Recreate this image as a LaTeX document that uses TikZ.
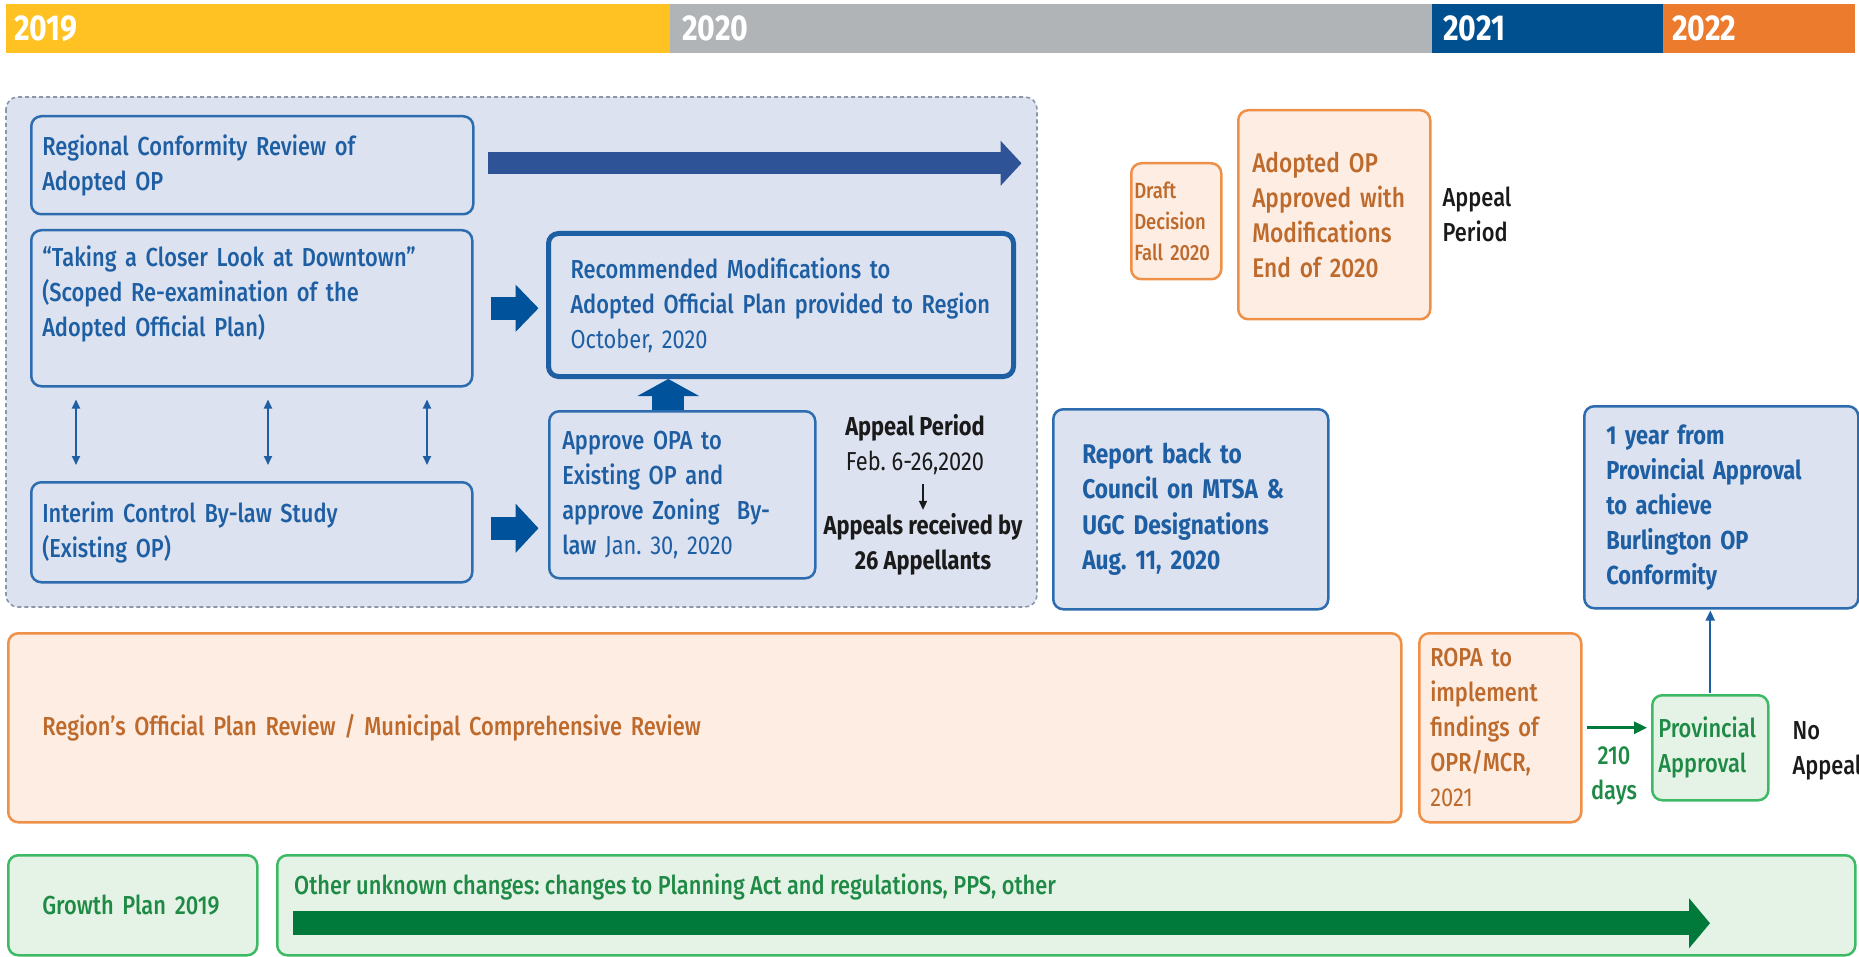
\documentclass[tikz,border=0pt]{standalone}
\usepackage{fontspec}
\setmainfont{Fira Sans}[UprightFont=* Medium, BoldFont=* Bold, FakeStretch=0.84]
\newfontfamily\regf{Fira Sans}[FakeStretch=0.84]
\usetikzlibrary{arrows.meta}
\frenchspacing

\definecolor{yrA}{HTML}{FFC222}
\definecolor{yrB}{HTML}{B1B4B7}
\definecolor{yrC}{HTML}{00508F}
\definecolor{yrD}{HTML}{EC7B2E}
\definecolor{panelfill}{HTML}{DCE2EF}
\definecolor{paneldash}{HTML}{8C96AA}
\definecolor{bxblue}{HTML}{2D6CAF}
\definecolor{txtblue}{HTML}{1E5EA3}
\definecolor{bigblue}{HTML}{2E5396}
\definecolor{blockblue}{HTML}{00529B}
\definecolor{orfill}{HTML}{FDEDE3}
\definecolor{ordraw}{HTML}{EE9048}
\definecolor{ortext}{HTML}{BD6A2C}
\definecolor{grfill}{HTML}{E4F3E5}
\definecolor{grdraw}{HTML}{3EBA66}
\definecolor{grtext}{HTML}{1F8A45}
\definecolor{grarrow}{HTML}{007A3B}
\definecolor{darktxt}{HTML}{1A1A1A}

\tikzset{
  box/.style={draw, rounded corners=10pt, line width=2.5pt, anchor=north west,
    inner sep=2pt, align=left, font=\fontsize{26}{35}\selectfont},
  bluebox/.style={box, draw=bxblue, fill=panelfill, text=txtblue},
  orbox/.style={box, draw=ordraw, fill=orfill, text=ortext},
  grbox/.style={box, draw=grdraw, fill=grfill, text=grtext},
  yearbar/.style={anchor=north west, inner sep=0pt, minimum height=49pt,
    text=white, align=left, font=\bfseries\fontsize{36}{36}\selectfont},
  note/.style={inner sep=0pt, align=center, text=darktxt, font=\fontsize{26}{35}\selectfont},
  fatarrow/.style={line width=#1},
  twoway/.style={draw=txtblue, line width=1.8pt,
    {Triangle[length=9pt,width=8pt]}-{Triangle[length=9pt,width=8pt]}}
}

\begin{document}
\begin{tikzpicture}[x=1pt,y=-1pt]
    \useasboundingbox (0,0) rectangle (1859,957);
    \clip (0,0) rectangle (1859,957);

    % year bar
    \node[yearbar, fill=yrA, minimum width=664pt, text width=648pt] (y19) at (6,4) {2019};
    \node[yearbar, fill=yrB, minimum width=762pt, text width=738pt] (y20) at (670,4) {2020};
    \node[yearbar, fill=yrC, minimum width=231pt, text width=209pt] (y21) at (1432,4) {2021};
    \node[yearbar, fill=yrD, minimum width=192pt, text width=174pt] (y22) at (1663,4) {2022};

    % dashed panel
    \draw[draw=paneldash, fill=panelfill, line width=1.6pt, dash pattern=on 4pt off 3pt,
          rounded corners=12pt] (6,97) rectangle (1037,607);

    \node[bluebox, minimum width=442pt, minimum height=98pt, text width=420pt] (nA) at (30,115)
        {Regional Conformity Review of\\Adopted OP};
    \node[bluebox, minimum width=441pt, minimum height=156pt, text width=419pt] (nB) at (30,229)
        {“Taking a Closer Look at Downtown”\\(Scoped Re-examination of the\\Adopted Official Plan)\\\mbox{}};
    \node[bluebox, minimum width=441pt, minimum height=100pt, text width=419pt] (nC) at (30,481)
        {Interim Control By-law Study\\(Existing OP)};
    \node[bluebox, line width=5pt, draw=txtblue, minimum width=465pt, minimum height=143pt,
          text width=421pt] (nD) at (546,231)
        {Recommended Modifications to\\Adopted Official Plan provided to Region\\{\regf October, 2020}};
    \node[bluebox, minimum width=266pt, minimum height=167pt, text width=240pt] (nE) at (548,410)
        {Approve OPA to\\Existing OP and\\approve Zoning\ \ By-\\law {\regf Jan. 30, 2020}};

    \draw[fatarrow=22pt, bigblue, -{Triangle[length=21pt,width=44pt]}]
        ([xshift=13pt,yshift=2pt]nA.east) -- ++(534,0);
    \draw[fatarrow=23pt, blockblue, -{Triangle[length=23pt,width=46pt]}]
        ([xshift=17pt]nB.east) -- ++(48,0);
    \draw[fatarrow=23pt, blockblue, -{Triangle[length=23pt,width=48pt]}]
        ([xshift=17pt,yshift=4pt]nC.east) -- ++(48,0);
    \draw[fatarrow=32pt, blockblue, -{Triangle[length=17pt,width=61pt]}]
        ([xshift=-14pt]nE.north) -- ([xshift=-14pt]nE.north |- nD.south);

    \foreach \dx in {46,238,397}
        \draw[twoway] ([xshift=\dx pt,yshift=-12pt]nB.south west) -- ([xshift=\dx pt,yshift=16pt]nC.north west);

    \node[note, font=\bfseries\fontsize{26}{35}\selectfont] (nApp) at (915,428) {Appeal Period};
    \node[note, font=\regf\fontsize{26}{35}\selectfont] (nFeb) at (915,463) {Feb. 6-26,2020};
    \node[note, font=\bfseries\fontsize{26}{35}\selectfont] (nRecv) at (923,544) {Appeals received by\\26 Appellants};
    \draw[line width=1.5pt, darktxt, -{Triangle[length=9pt,width=8pt]}, shorten <=9pt, shorten >=3pt]
        (nFeb.south -| nRecv.north) -- (nRecv.north);

    % orange boxes, top right
    \node[orbox, font=\fontsize{22}{31}\selectfont, minimum width=90pt, minimum height=116pt,
          text width=84pt] (nDraft) at (1130,162) {Draft\\Decision\\Fall 2020};
    \node[orbox, font=\fontsize{27}{35}\selectfont, minimum width=192pt, minimum height=209pt,
          text width=164pt] (nAdopted) at (1237,109)
        {Adopted OP\\Approved with\\Modifications\\End of 2020};
    \node[note, anchor=west, align=left] (nAppR) at ([xshift=11pt]nAdopted.east) {Appeal\\Period};

    \node[bluebox, font=\bfseries\fontsize{27}{35.5}\selectfont, minimum width=275pt,
          minimum height=200pt, text width=217pt] (nReport) at (1052,408)
        {Report back to\\Council on MTSA \&\\UGC Designations\\Aug. 11, 2020};
    \node[bluebox, font=\bfseries\fontsize{26}{35}\selectfont, minimum width=274pt,
          minimum height=202pt, text width=230pt] (nYear) at (1583,405)
        {1 year from\\Provincial Approval\\to achieve\\Burlington OP\\Conformity};

    % regional review row
    \node[orbox, minimum width=1393pt, minimum height=189pt, text width=1325pt] (nRegion) at (7,632)
        {Region’s Official Plan Review / Municipal Comprehensive Review};
    \node[orbox, minimum width=162pt, minimum height=189pt, text width=140pt] (nROPA) at (1418,632)
        {ROPA to\\implement\\findings of\\OPR/MCR,\\{\regf 2021}};
    \node[grbox, minimum width=116pt, minimum height=105pt, text width=104pt] (nProv) at (1651,694)
        {Provincial\\Approval};
    \draw[line width=3pt, grarrow, -{Triangle[length=13pt,width=12pt]}, shorten <=4pt, shorten >=4pt]
        (nROPA.east) -- (nROPA.east -| nProv.west);
    \node[note, text=grtext] (nDays) at (1614,776) {210\\days};
    \draw[line width=2pt, txtblue, -{Triangle[length=10pt,width=9pt]}, shorten <=1pt, shorten >=1pt]
        (nProv.north) -- (nProv.north |- nYear.south);
    \node[note, anchor=west, align=left] (nNoApp) at ([xshift=23pt,yshift=-3pt]nProv.east) {No\\Appeal};

    % growth plan row
    \node[grbox, minimum width=249pt, minimum height=100pt, text width=181pt] (nGrowth) at (7,854)
        {Growth Plan 2019};
    \node[grbox, minimum width=1578pt, minimum height=100pt] (nOther) at (276,854) {};
    \node[anchor=west, inner sep=0pt, text=grtext, font=\fontsize{26}{35}\selectfont] (nOtherTxt)
        at ([xshift=18pt,yshift=-33pt]nOther.north west)
        {Other unknown changes: changes to Planning Act and regulations, PPS, other};
    \draw[fatarrow=24pt, grarrow, -{Triangle[length=21pt,width=49pt]}]
        ([xshift=17pt,yshift=-18pt]nOther.west) -- ++(1417,0);
\end{tikzpicture}
\end{document}
